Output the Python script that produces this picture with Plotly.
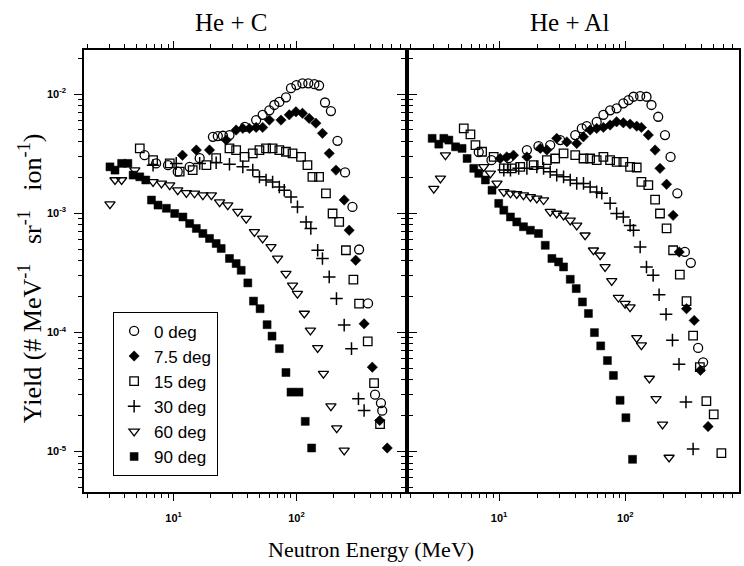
import plotly.graph_objects as go

angles = ["0 deg", "7.5 deg", "15 deg", "30 deg", "60 deg", "90 deg"]
panel_titles = ["He + C", "He + Al"]
x_title = "Neutron Energy (MeV)"
y_title = "Yield (# MeV<sup>-1</sup>   sr<sup>-1</sup>   ion<sup>-1</sup>)"
x_tickvals = [10, 100]
x_ticktext = ["10<sup>1</sup>", "10<sup>2</sup>"]
y_tickvals = [1e-2, 1e-3, 1e-4, 1e-5]
y_ticktext = ["10<sup>-2</sup>", "10<sup>-3</sup>", "10<sup>-4</sup>", "10<sup>-5</sup>"]

# ---------------- He + C ----------------
c0_E = [5.8, 7.2, 9.0, 10.8, 13.5, 16.3, 20.9, 22.9, 25.2, 28.5, 38, 47.0, 53.1, 60.2, 66.1, 72.6, 82.2, 90.3,
        100, 112, 125, 140, 153, 171, 191, 216, 249, 286, 324, 383, 437, 488, 500]
c0_Y = [3.07e-3, 2.62e-3, 2.53e-3, 2.23e-3, 2.45e-3, 2.90e-3, 4.38e-3, 4.44e-3, 4.47e-3, 4.53e-3, 5.3e-3, 6.05e-3,
        6.7e-3, 7.3e-3, 8.1e-3, 8.6e-3, 9.4e-3, 1.12e-2, 1.19e-2, 1.23e-2, 1.23e-2, 1.21e-2, 1.18e-2, 8.5e-3, 7.2e-3,
        4.05e-3, 2.20e-3, 1.13e-3, 4.96e-4, 1.75e-4, 3.0e-5, 2.55e-5, 2.2e-5]

c7_E = [11.8, 15.3, 19.6, 26.8, 32.3, 36.6, 41.4, 47.0, 53.1, 60.2, 74.9, 87.5, 99.1, 112, 127, 144, 163, 185, 210,
        245, 269, 304, 356, 415, 477, 549]
c7_Y = [3.07e-3, 3.39e-3, 3.39e-3, 4.11e-3, 4.99e-3, 5.15e-3, 5.15e-3, 5.25e-3, 5.25e-3, 6.05e-3, 6.05e-3, 6.7e-3,
        7.1e-3, 6.9e-3, 6.25e-3, 5.7e-3, 4.68e-3, 3.18e-3, 2.30e-3, 1.29e-3, 7.2e-4, 4.03e-4, 1.18e-4, 5.1e-5,
        1.82e-5, 1.07e-5]

c15_E = [5.3, 6.8, 9.3, 11.2, 14.3, 18.5, 22.2, 28.5, 32.3, 37.8, 44.1, 50.0, 56.6, 64.0, 72.6, 82.2, 93.0, 109,
         123, 135, 153, 174, 197, 223, 253, 291, 324, 381, 429, 480]
c15_Y = [3.50e-3, 2.79e-3, 2.62e-3, 2.23e-3, 2.30e-3, 2.53e-3, 2.90e-3, 3.50e-3, 3.39e-3, 2.97e-3, 3.18e-3, 3.39e-3,
         3.50e-3, 3.50e-3, 3.39e-3, 3.28e-3, 3.18e-3, 2.97e-3, 2.53e-3, 2.02e-3, 2.02e-3, 1.47e-3, 9.95e-4, 8.45e-4,
         4.89e-4, 2.77e-4, 1.74e-4, 8.4e-5, 3.75e-5, 1.7e-5]

c30_E = [6.8, 10.5, 16.3, 22.2, 28.5, 36.6, 44.1, 50.0, 56.6, 64.0, 72.6, 79.6, 90.3, 102, 120, 131, 149, 163, 185,
         212, 245, 281, 320, 356]
c30_Y = [2.53e-3, 2.62e-3, 2.62e-3, 2.65e-3, 2.58e-3, 2.45e-3, 2.30e-3, 2.02e-3, 1.90e-3, 1.83e-3, 1.66e-3, 1.56e-3,
         1.37e-3, 1.13e-3, 8.45e-4, 7.45e-4, 4.89e-4, 4.17e-4, 2.92e-4, 1.92e-4, 1.15e-4, 7.3e-5, 2.77e-5, 2.21e-5]

c60_E = [3.03, 3.33, 3.77, 4.83, 6.8, 7.96, 9.29, 10.8, 12.7, 14.8, 17.3, 20.3, 23.7, 27.6, 33.3, 39.0, 45.5, 53.1,
         62.1, 70.3, 82.2, 93.0, 102, 116, 130, 149, 166, 191, 213, 245]
c60_Y = [1.19e-3, 1.90e-3, 1.90e-3, 2.30e-3, 1.83e-3, 1.78e-3, 1.72e-3, 1.56e-3, 1.48e-3, 1.47e-3, 1.42e-3, 1.42e-3,
         1.24e-3, 1.17e-3, 1.03e-3, 9.0e-4, 6.97e-4, 6.14e-4, 5.21e-4, 4.17e-4, 3.11e-4, 2.48e-4, 2.11e-4, 1.44e-4,
         1.04e-4, 7.4e-5, 4.5e-5, 2.40e-5, 1.57e-5, 1.02e-5]

c90_E = [3.03, 3.33, 3.77, 4.24, 4.68, 5.30, 5.93, 6.60, 7.46, 8.73, 10.2, 11.9, 13.5, 15.3, 17.3, 19.6, 22.2, 24.4,
         28.5, 32.3, 35.5, 40.2, 44.7, 50.6, 57.7, 63.3, 72.6, 82.2, 90.3, 105, 118, 133]
c90_Y = [2.45e-3, 2.30e-3, 2.62e-3, 2.62e-3, 2.09e-3, 2.02e-3, 1.90e-3, 1.29e-3, 1.17e-3, 1.10e-3, 9.95e-4, 9.3e-4,
         8.2e-4, 7.45e-4, 6.76e-4, 6.14e-4, 5.57e-4, 5.06e-4, 4.17e-4, 3.78e-4, 3.32e-4, 2.60e-4, 1.83e-4, 1.58e-4,
         1.16e-4, 9.3e-5, 7.3e-5, 4.6e-5, 3.15e-5, 3.15e-5, 1.79e-5, 1.07e-5]

# ---------------- He + Al ----------------
a0_E = [6.9, 8.7, 11.9, 16.6, 20.5, 25.4, 30.5, 40.1, 45.2, 49.5, 59.3, 67.0, 75.7, 85.3, 96.4, 106, 116, 131, 147,
        161, 182, 206, 228, 258, 296, 330, 377, 413]
a0_Y = [3.26e-3, 2.79e-3, 2.90e-3, 3.39e-3, 3.66e-3, 3.73e-3, 4.11e-3, 4.53e-3, 5.15e-3, 5.38e-3, 5.85e-3, 6.7e-3,
        7.3e-3, 7.6e-3, 8.36e-3, 8.9e-3, 9.5e-3, 9.6e-3, 9.5e-3, 8.1e-3, 6.45e-3, 4.53e-3, 2.97e-3, 1.47e-3, 4.73e-4,
        3.83e-4, 7.4e-5, 5.6e-5]

a7_E = [10.2, 11.5, 13.0, 16.6, 21.2, 23.9, 28.6, 34.4, 41.2, 46.5, 52.6, 59.3, 67.0, 75.7, 85.3, 96.4, 109, 123,
        134, 152, 172, 188, 212, 239, 267, 305, 351, 393, 452]
a7_Y = [2.88e-3, 2.97e-3, 3.07e-3, 2.97e-3, 3.50e-3, 3.39e-3, 4.25e-3, 3.97e-3, 3.85e-3, 4.38e-3, 4.99e-3, 5.15e-3,
        5.25e-3, 5.5e-3, 5.85e-3, 5.74e-3, 5.6e-3, 5.38e-3, 5.25e-3, 4.53e-3, 3.39e-3, 2.38e-3, 1.75e-3, 9.6e-4,
        4.73e-4, 1.58e-4, 1.26e-4, 4.8e-5, 1.62e-5]

a15_E = [5.25, 5.93, 6.50, 7.33, 9.06, 10.9, 12.6, 14.7, 18.8, 23.9, 27.8, 32.4, 40.1, 46.6, 52.6, 59.3, 67.0, 75.7,
         85.3, 96.4, 109, 123, 134, 152, 172, 188, 212, 239, 270, 305, 344, 389, 438, 501, 576]
a15_Y = [5.15e-3, 4.59e-3, 3.73e-3, 3.28e-3, 2.97e-3, 2.38e-3, 2.38e-3, 2.45e-3, 2.53e-3, 2.79e-3, 2.88e-3, 3.18e-3,
         3.07e-3, 2.88e-3, 2.88e-3, 2.79e-3, 2.97e-3, 2.79e-3, 2.70e-3, 2.70e-3, 2.45e-3, 2.42e-3, 1.83e-3, 1.72e-3,
         1.30e-3, 9.95e-4, 7.45e-4, 4.89e-4, 3.05e-4, 1.83e-4, 9.4e-5, 5.1e-5, 2.65e-5, 2.05e-5, 9.7e-6]

a30_E = [10.9, 12.3, 14.3, 16.6, 19.9, 22.5, 25.4, 28.6, 32.4, 36.6, 41.2, 46.6, 52.6, 59.3, 65.0, 75.7, 85.3, 96.4,
         109, 116, 131, 147, 166, 185, 210, 236, 266, 302, 344]
a30_Y = [2.30e-3, 2.30e-3, 2.38e-3, 2.38e-3, 2.45e-3, 2.38e-3, 2.23e-3, 2.09e-3, 2.02e-3, 1.90e-3, 1.78e-3, 1.78e-3,
         1.66e-3, 1.51e-3, 1.47e-3, 1.21e-3, 9.95e-4, 9.3e-4, 7.9e-4, 7.2e-4, 5.21e-4, 3.54e-4, 3.01e-4, 2.07e-4,
         1.42e-4, 8.6e-5, 5.4e-5, 2.60e-5, 1.05e-5]

a60_E = [3.04, 3.43, 3.76, 7.55, 8.53, 9.62, 10.9, 12.3, 13.8, 15.6, 17.7, 19.9, 22.5, 25.4, 28.6, 32.4, 36.6, 41.2,
         48.0, 55.9, 63.1, 69.1, 78.0, 88.1, 99.5, 109, 123, 134, 155, 175, 197, 222]
a60_Y = [1.61e-3, 1.96e-3, 3.07e-3, 2.45e-3, 2.16e-3, 1.78e-3, 1.51e-3, 1.47e-3, 1.45e-3, 1.42e-3, 1.37e-3, 1.33e-3,
         1.29e-3, 1.03e-3, 9.95e-4, 9.6e-4, 8.7e-4, 7.9e-4, 6.53e-4, 4.89e-4, 4.44e-4, 3.54e-4, 2.70e-4, 1.96e-4,
         1.74e-4, 1.63e-4, 9.0e-5, 7.8e-5, 4.1e-5, 2.77e-5, 1.69e-5, 8.9e-6]

a90_E = [2.95, 3.33, 3.65, 4.00, 4.52, 5.09, 5.58, 6.30, 6.90, 7.79, 8.79, 9.93, 10.9, 12.3, 13.8, 15.6, 17.7, 20.5,
         23.2, 26.2, 29.6, 32.4, 36.6, 40.8, 45.7, 51.0, 56.9, 63.8, 72.1, 80.4, 90.8, 101, 114]
a90_Y = [4.25e-3, 3.80e-3, 4.25e-3, 4.11e-3, 3.61e-3, 3.50e-3, 2.88e-3, 2.38e-3, 2.16e-3, 1.90e-3, 1.56e-3, 1.21e-3,
         1.06e-3, 9.3e-4, 8.45e-4, 7.7e-4, 7.2e-4, 6.76e-4, 5.38e-4, 4.17e-4, 3.90e-4, 3.54e-4, 2.79e-4, 2.33e-4,
         1.80e-4, 1.44e-4, 9.95e-5, 7.7e-5, 5.8e-5, 4.35e-5, 2.69e-5, 1.92e-5, 8.6e-6]

carbon = [(c0_E, c0_Y), (c7_E, c7_Y), (c15_E, c15_Y), (c30_E, c30_Y), (c60_E, c60_Y), (c90_E, c90_Y)]
aluminum = [(a0_E, a0_Y), (a7_E, a7_Y), (a15_E, a15_Y), (a30_E, a30_Y), (a60_E, a60_Y), (a90_E, a90_Y)]

# marker styles (style only)
styles = [
    dict(symbol="circle-open", size=9, color="black", line=dict(width=1.3, color="black")),
    dict(symbol="diamond", size=8, color="black", line=dict(width=0.5, color="black")),
    dict(symbol="square-open", size=8.5, color="black", line=dict(width=1.3, color="black")),
    dict(symbol="cross-thin-open", size=9, color="black", line=dict(width=1.5, color="black")),
    dict(symbol="triangle-down-open", size=9, color="black", line=dict(width=1.3, color="black")),
    dict(symbol="square", size=8, color="black", line=dict(width=0.5, color="black")),
]

fig = go.Figure()
for i, (E, Y) in enumerate(carbon):
    fig.add_trace(go.Scatter(x=E, y=Y, mode="markers", name=angles[i], marker=styles[i],
                             xaxis="x", yaxis="y", legendgroup=angles[i], showlegend=True))
for i, (E, Y) in enumerate(aluminum):
    fig.add_trace(go.Scatter(x=E, y=Y, mode="markers", name=angles[i], marker=styles[i],
                             xaxis="x2", yaxis="y2", legendgroup=angles[i], showlegend=False))

x_minor = [m * 10 ** k for k in range(0, 3) for m in range(2, 10)]
y_minor = [m * 10 ** k for k in range(-6, -1) for m in range(2, 10)]

tick_font = dict(family="Liberation Sans, Arial", size=11, color="black", weight="bold")
x_range = [0.27, 2.9]
y_range = [-5.34, -1.63]
split = 0.493

common_x = dict(type="log", range=x_range, tickvals=x_tickvals, ticktext=x_ticktext, ticks="outside",
                ticklen=7, tickwidth=1.3, tickcolor="black", showline=True, linecolor="black", linewidth=1.6,
                mirror="allticks", showgrid=False, zeroline=False, tickfont=tick_font, ticklabelstandoff=8,
                minor=dict(tickvals=x_minor, ticks="outside", ticklen=4, tickwidth=1, tickcolor="black"))
common_y = dict(type="log", range=y_range, tickvals=y_tickvals, ticktext=y_ticktext, ticks="outside",
                ticklen=8, tickwidth=1.3, tickcolor="black", showline=True, linecolor="black", linewidth=1.6,
                showgrid=False, zeroline=False, tickfont=tick_font,
                minor=dict(tickvals=y_minor, ticks="outside", ticklen=4, tickwidth=1, tickcolor="black"))

fig.update_layout(
    width=744, height=566,
    margin=dict(l=84, r=3, t=50, b=74),
    paper_bgcolor="white", plot_bgcolor="white",
    xaxis=dict(domain=[0, split], anchor="y", **common_x),
    xaxis2=dict(domain=[split, 1], anchor="y2", **common_x),
    yaxis=dict(domain=[0, 1], anchor="x", mirror="allticks", ticklabelstandoff=6, **common_y),
    yaxis2=dict(domain=[0, 1], anchor="x2", mirror=True, showticklabels=False, **common_y),
    legend=dict(x=0.044, y=0.407, xanchor="left", yanchor="top", bgcolor="white", bordercolor="black",
                borderwidth=1.3, font=dict(family="Liberation Sans, Arial", size=17, color="black"),
                tracegroupgap=0, itemwidth=30),
    showlegend=True,
    annotations=[
        dict(text=panel_titles[0], x=(231 - 84) / 657, y=1.063, xref="paper", yref="paper", showarrow=False,
             xanchor="center", yanchor="middle", font=dict(family="Liberation Serif, Times New Roman", size=25, color="black")),
        dict(text=panel_titles[1], x=(571 - 84) / 657, y=1.063, xref="paper", yref="paper", showarrow=False,
             xanchor="center", yanchor="middle", font=dict(family="Liberation Serif, Times New Roman", size=25, color="black")),
        dict(text=x_title, x=(372 - 84) / 657, y=(492 - 549) / 442, xref="paper", yref="paper", showarrow=False,
             xanchor="center", yanchor="middle", font=dict(family="Liberation Serif, Times New Roman", size=22, color="black")),
        dict(text=y_title, x=(30 - 84) / 657, y=(492 - 278) / 442, xref="paper", yref="paper", showarrow=False,
             textangle=-90, xanchor="center", yanchor="middle",
             font=dict(family="Liberation Serif, Times New Roman", size=26, color="black")),
    ],
)

fig.write_html("out.html")
